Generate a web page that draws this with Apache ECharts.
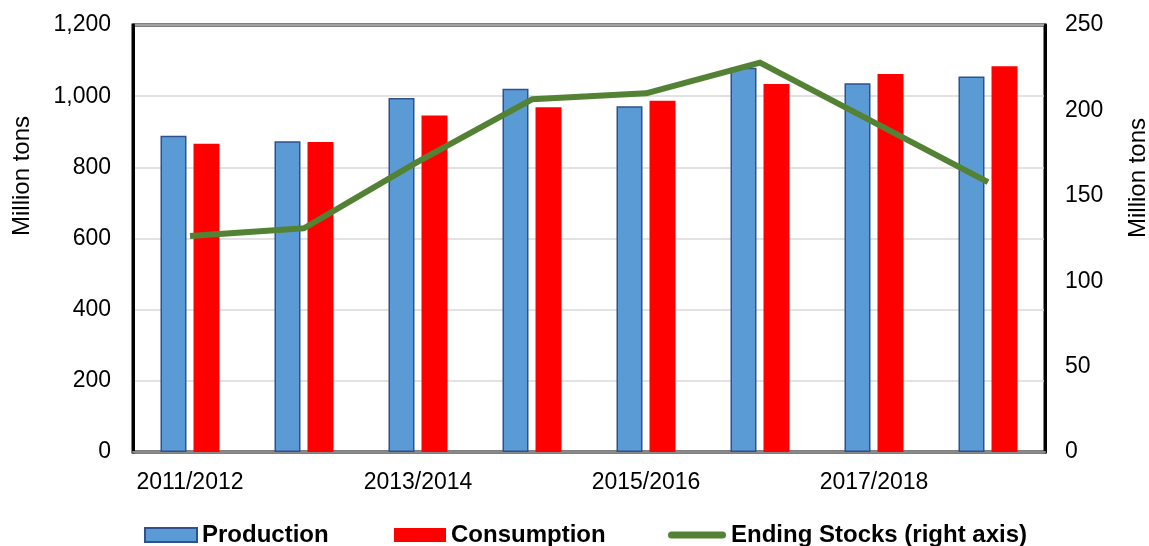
<!doctype html>
<html>
<head>
  <meta charset="UTF-8" />
  <title>Production, Consumption and Ending Stocks</title>
  <script src="https://cdn.jsdelivr.net/npm/echarts@6/dist/echarts.min.js"></script>
  <style>
    html, body { margin: 0; padding: 0; background: #ffffff; }
    #chart { width: 1149px; height: 546px; }
  </style>
</head>
<body>
  <div id="chart"></div>
  <script>
    const years = ["2011/2012", "2012/2013", "2013/2014", "2014/2015", "2015/2016", "2016/2017", "2017/2018", "2018/2019"];
    const production = [889, 873, 995, 1021, 972, 1080, 1036, 1055];
    const consumption = [866, 871, 946, 969, 987, 1034, 1062, 1084];
    const endingStocks = [126.5, 131, 170, 206.5, 210, 228, 193, 158];

    const font = "'Liberation Sans', Arial, sans-serif";
    var chart = echarts.init(document.getElementById("chart"));

    // one legend per entry so each item can sit where it does in the original
    const legendText = { fontFamily: font, fontSize: 24, fontWeight: "bold", color: "#000" };
    const lineIcon = "path://M3.5,0 L54.5,0 A3.5,3.5 0 0 1 54.5,7 L3.5,7 A3.5,3.5 0 0 1 3.5,0 Z";
    const legendBase = { top: 523, padding: 0, itemHeight: 14, textStyle: legendText };

    var option = {
      animation: false,
      textStyle: { fontFamily: font, color: "#000" },
      grid: {
        left: 133, right: 104, top: 25, bottom: 94,
        show: true, borderColor: "#000", borderWidth: 3
      },
      legend: [
        { ...legendBase, left: 144, itemWidth: 52, data: [{ name: "Production", icon: "rect" }] },
        { ...legendBase, left: 394, itemWidth: 52, data: [{ name: "Consumption", icon: "rect" }] },
        { ...legendBase, left: 668, itemWidth: 58, data: [{ name: "Ending Stocks (right axis)", icon: lineIcon }] }
      ],
      xAxis: {
        type: "category",
        data: years,
        axisLine: { lineStyle: { color: "#898989", width: 2 } },
        axisTick: { show: false },
        axisLabel: { interval: 1, fontSize: 23, color: "#000", margin: 19, fontFamily: font }
      },
      yAxis: [
        {
          type: "value", min: 0, max: 1200, interval: 200,
          axisLine: { show: true, lineStyle: { color: "#000", width: 3 } },
          axisTick: { show: false },
          axisLabel: {
            fontSize: 23, color: "#000", margin: 22, fontFamily: font,
            formatter: (v) => v.toLocaleString("en-US")
          },
          splitLine: { lineStyle: { color: "#d9d9d9", width: 1.5 } }
        },
        {
          type: "value", min: 0, max: 250, interval: 50,
          axisLine: { show: true, lineStyle: { color: "#000", width: 3 } },
          axisTick: { show: false },
          axisLabel: { fontSize: 23, color: "#000", margin: 20, fontFamily: font },
          splitLine: { show: false }
        }
      ],
      graphic: [
        {
          type: "text", x: 10, y: 176, rotation: Math.PI / 2,
          style: { text: "Million tons", font: "24px " + font, fill: "#000", align: "center", verticalAlign: "top" }
        },
        {
          type: "text", x: 1126, y: 178, rotation: Math.PI / 2,
          style: { text: "Million tons", font: "24px " + font, fill: "#000", align: "center", verticalAlign: "top" }
        }
      ],
      series: [
        {
          name: "Production",
          type: "bar",
          data: production,
          barWidth: 26,
          barGap: "27%",
          itemStyle: { color: "#5b9bd5", borderColor: "#2f528f", borderWidth: 1.5 }
        },
        {
          name: "Consumption",
          type: "bar",
          data: consumption,
          barWidth: 26,
          itemStyle: { color: "#ff0000" }
        },
        {
          name: "Ending Stocks (right axis)",
          type: "line",
          yAxisIndex: 1,
          data: endingStocks,
          symbol: "none",
          lineStyle: { color: "#548235", width: 6, join: "round" },
          itemStyle: { color: "#548235" },
          z: 5
        }
      ]
    };

    chart.setOption(option);
    window.addEventListener("resize", () => chart.resize());
  </script>
</body>
</html>
